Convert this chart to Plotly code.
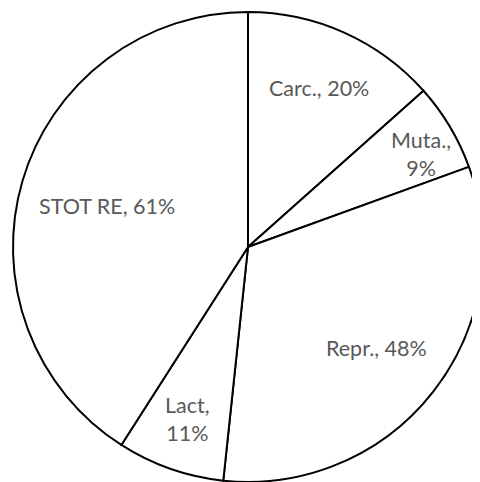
import math
import plotly.graph_objects as go

categories = ["Carc.", "Muta.", "Repr.", "Lact", "STOT RE"]
values = [20, 9, 48, 11, 61]
label_texts = ["Carc., 20%", "Muta.,<br>9%", "Repr., 48%", "Lact,<br>11%", "STOT RE, 61%"]

# label placement (layout): radial fraction of radius and angular nudge in degrees
label_radius = [0.74, 0.835, 0.695, 0.775, 0.625]
label_nudge_deg = [0, 2.4, 0, 0, 0]

W, H = 480, 482
OFF = 8  # page body margin
cx_px = 248 - OFF
cy_px = 247 - OFF
R_px = 235
dom_x = [(cx_px - R_px) / W, (cx_px + R_px) / W]
dom_y = [1 - (cy_px + R_px) / H, 1 - (cy_px - R_px) / H]

fig = go.Figure(go.Pie(
    labels=categories,
    values=values,
    sort=False,
    direction="clockwise",
    rotation=0,
    textinfo="none",
    hoverinfo="label+value",
    marker=dict(colors=["white"] * len(values), line=dict(color="black", width=2)),
    domain=dict(x=dom_x, y=dom_y),
    showlegend=False,
))

total = sum(values)
cum = 0
annotations = []
for v, t, rf, nd in zip(values, label_texts, label_radius, label_nudge_deg):
    mid = (cum + v / 2) / total * 2 * math.pi + math.radians(nd)
    cum += v
    px = cx_px + rf * R_px * math.sin(mid)
    py = cy_px - rf * R_px * math.cos(mid)
    annotations.append(dict(
        x=px / W, y=1 - py / H, xref="paper", yref="paper",
        text=t, showarrow=False, xanchor="center", yanchor="middle",
        font=dict(family="Lato, Open Sans, sans-serif", size=21.5, color="#595959"),
    ))

fig.update_layout(
    width=W, height=H,
    margin=dict(l=0, r=0, t=0, b=0),
    paper_bgcolor="white",
    plot_bgcolor="white",
    annotations=annotations,
)

fig.write_html("out.html")
